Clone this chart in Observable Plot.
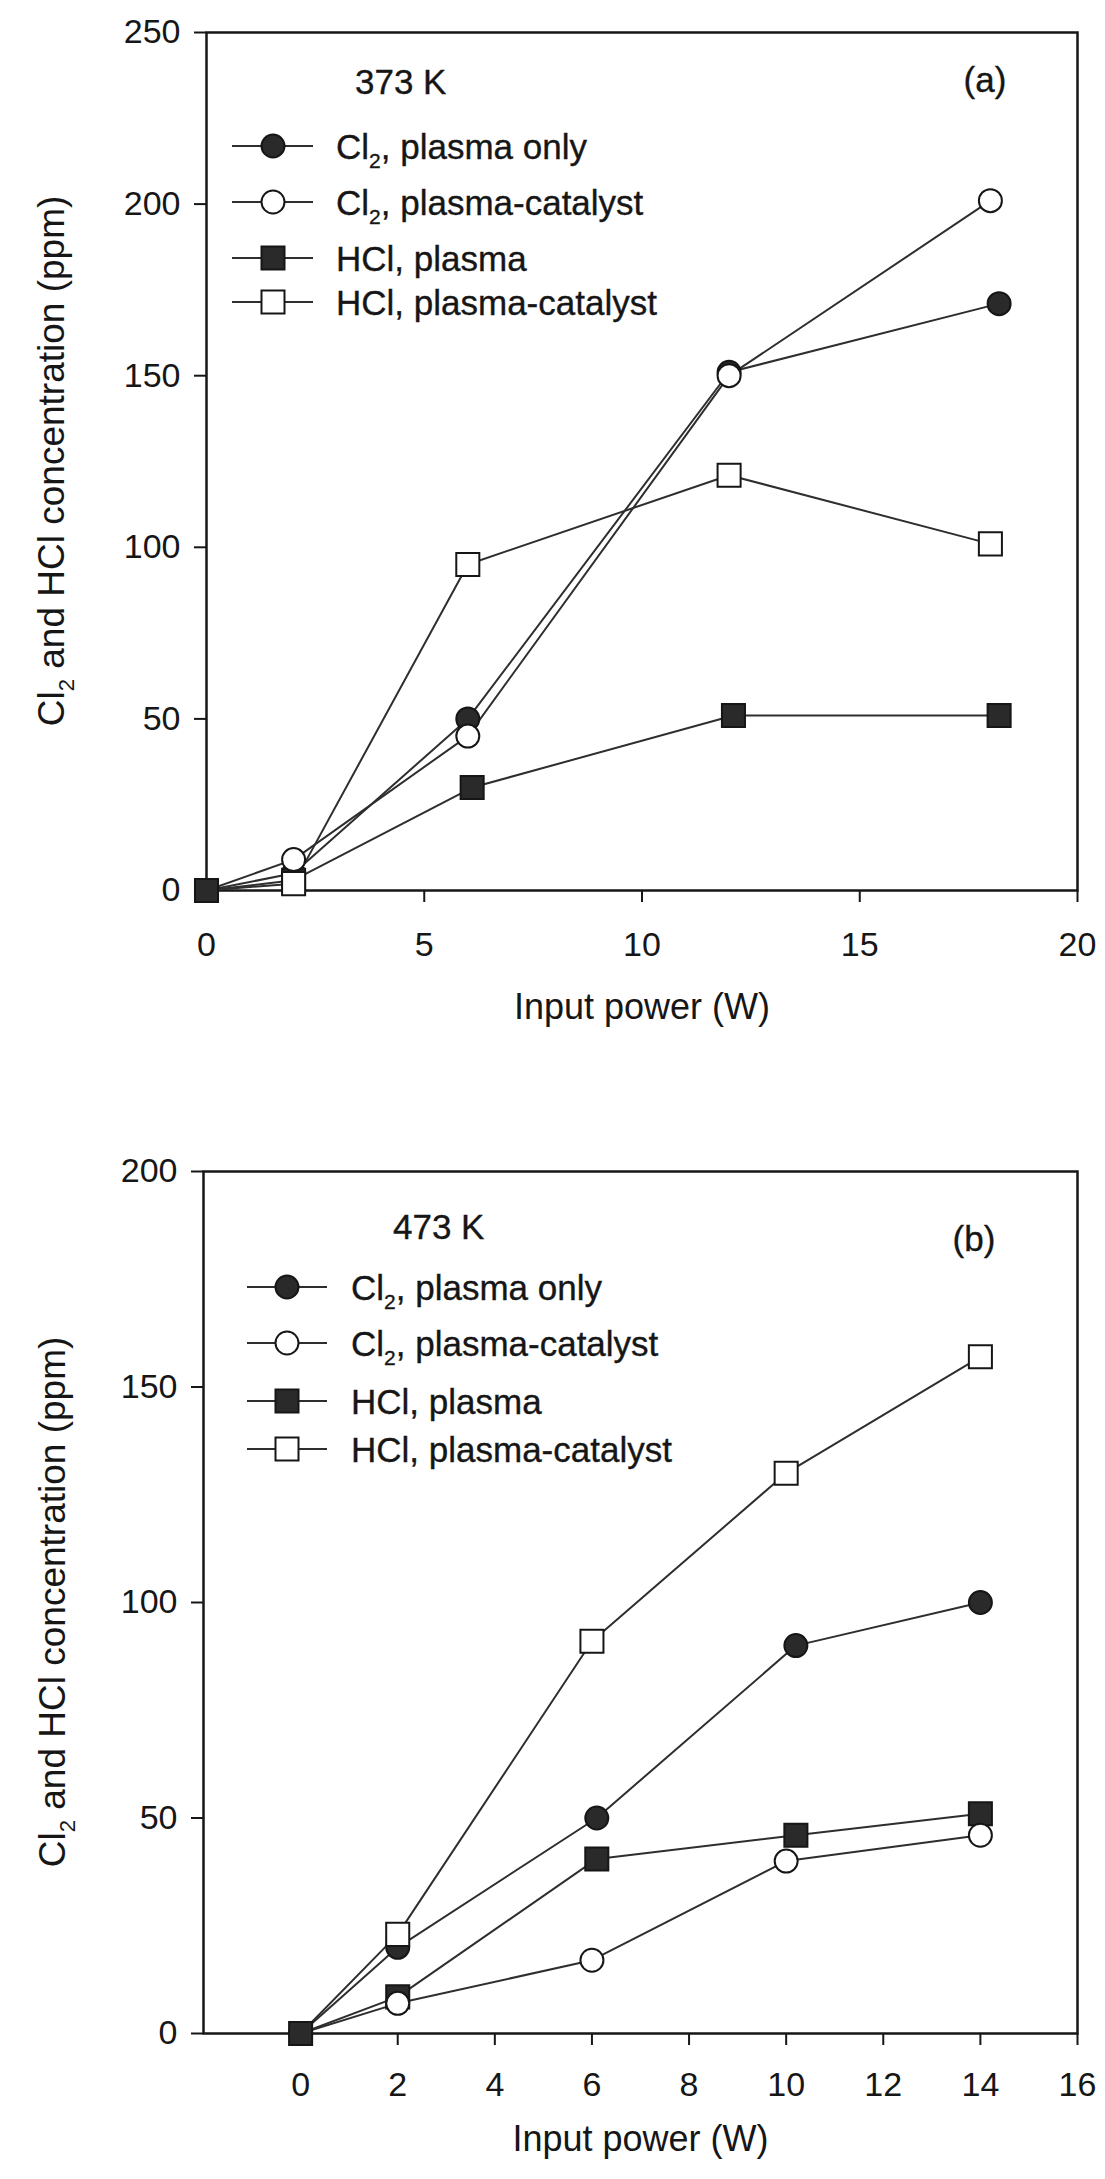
<!DOCTYPE html>
<html><head><meta charset="utf-8">
<script src="https://cdn.jsdelivr.net/npm/d3@7"></script>
<script src="https://cdn.jsdelivr.net/npm/@observablehq/plot@0.6"></script>
<style>
html,body{margin:0;padding:0;background:#fff;}
#chart{width:1105px;}
#chart svg{display:block;}
</style></head>
<body><div id="chart"></div>
<script>
// ---------- Series descriptions (shared by both panels) ----------
const seriesKeys  = ["cl2Plasma", "cl2Catalyst", "hclPlasma", "hclCatalyst"];
const seriesChem  = ["Cl", "Cl", "HCl", "HCl"];
const seriesSub   = ["2", "2", "", ""];
const seriesDesc  = [", plasma only", ", plasma-catalyst", ", plasma", ", plasma-catalyst"];
const seriesShape = ["circle", "circle", "square", "square"];
const seriesFilled = [true, false, true, false];

// ---------- Panel (a): 373 K ----------
const aTemp = "373 K";
const aTag = "(a)";
const aPowerCl2Plasma = [0, 2, 6, 12, 18.2];
const aCl2Plasma      = [0, 5, 50, 151, 171];
const aPowerCl2Cat    = [0, 2, 6, 12, 18];
const aCl2Catalyst    = [0, 9, 45, 150, 201];
const aPowerHclPlasma = [0, 2, 6.1, 12.1, 18.2];
const aHclPlasma      = [0, 3, 30, 51, 51];
const aPowerHclCat    = [0, 2, 6, 12, 18];
const aHclCatalyst    = [0, 2, 95, 121, 101];
const aXTicks = [0, 5, 10, 15, 20];
const aYTicks = [0, 50, 100, 150, 200, 250];

// ---------- Panel (b): 473 K ----------
const bTemp = "473 K";
const bTag = "(b)";
const bPowerCl2Plasma = [0, 2, 6.1, 10.2, 14];
const bCl2Plasma      = [0, 20, 50, 90, 100];
const bPowerCl2Cat    = [0, 2, 6, 10, 14];
const bCl2Catalyst    = [0, 7, 17, 40, 46];
const bPowerHclPlasma = [0, 2, 6.1, 10.2, 14];
const bHclPlasma      = [0, 8.5, 40.5, 46, 51];
const bPowerHclCat    = [0, 2, 6, 10, 14];
const bHclCatalyst    = [0, 23, 91, 130, 157];
const bXTicks = [0, 2, 4, 6, 8, 10, 12, 14, 16];
const bYTicks = [0, 50, 100, 150, 200];

const xLabel = "Input power (W)";
const yLabelParts = ["Cl", "2", " and HCl concentration (ppm)"];

// ---------- Styling ----------
const FONT = "'Liberation Sans', Arial, Helvetica, sans-serif";
const INK = "#161616";
const LINE = "#2e2e2e";
const DARK = "#2a2a2a";

function buildRows(powers, values) {
  return seriesKeys.flatMap((key, i) =>
    powers[i].map((p, j) => ({series: key, idx: i, power: p, conc: values[i][j]})));
}

function addLabel(textSel, chem, sub, rest) {
  textSel.append("tspan").text(chem);
  if (sub) {
    textSel.append("tspan").attr("font-size", "0.6em").attr("dy", "0.45em").text(sub);
    textSel.append("tspan").attr("dy", "-0.27em").text(rest);
  } else {
    textSel.append("tspan").text(rest);
  }
}

function annotations(cfg) {
  return (index, scales, values, dims) => {
    const ml = dims.marginLeft, mt = dims.marginTop, mr = dims.marginRight, mb = dims.marginBottom;
    const W = dims.width, H = dims.height;
    const g = d3.create("svg:g").attr("font-family", FONT).attr("fill", INK)
      .attr("text-anchor", "start");
    const heavy = sel => sel.attr("stroke", INK).attr("stroke-width", 0.35);
    // temperature & tag
    heavy(g.append("text").attr("x", ml + cfg.tempX).attr("y", mt + cfg.tempY)
      .attr("dy", "0.36em").attr("font-size", cfg.fs).text(cfg.temp));
    heavy(g.append("text").attr("x", W - mr - cfg.tagRight).attr("y", mt + cfg.tagY)
      .attr("dy", "0.36em").attr("text-anchor", "middle").attr("font-size", cfg.fs).text(cfg.tag));
    // legend rows
    seriesKeys.forEach((k, i) => {
      const y = mt + cfg.rows[i];
      g.append("line").attr("x1", ml + cfg.lineX[0]).attr("x2", ml + cfg.lineX[1])
        .attr("y1", y).attr("y2", y).attr("stroke", LINE).attr("stroke-width", 2);
      const mx = ml + cfg.markerX;
      const fill = seriesFilled[i] ? DARK : "#fff";
      if (seriesShape[i] === "circle") {
        g.append("circle").attr("cx", mx).attr("cy", y).attr("r", 11.5)
          .attr("fill", fill).attr("stroke", INK).attr("stroke-width", 2);
      } else {
        g.append("rect").attr("x", mx - 11.5).attr("y", y - 11.5).attr("width", 23).attr("height", 23)
          .attr("fill", fill).attr("stroke", INK).attr("stroke-width", 2);
      }
      const t = heavy(g.append("text").attr("x", ml + cfg.textX).attr("y", y).attr("dy", "0.36em")
        .attr("text-anchor", "start").attr("font-size", cfg.fs));
      addLabel(t, seriesChem[i], seriesSub[i], seriesDesc[i]);
    });
    // y-axis label (rotated, with subscript)
    const cy = (mt + (H - mb)) / 2;
    const yl = g.append("text").attr("transform", `translate(${cfg.yLabelX},${cy}) rotate(-90)`)
      .attr("text-anchor", "middle").attr("dy", "0.36em").attr("font-size", cfg.axisFs);
    addLabel(yl, yLabelParts[0], yLabelParts[1], yLabelParts[2]);
    return g.node();
  };
}

function panel(opt) {
  const rows = buildRows(opt.powers, opt.values);
  const pick = (i, dropZero) => rows.filter(d => d.idx === i && !(dropZero && d.power === 0));
  const dotMarks = [0, 2, 1, 3].map(i => Plot.dot(pick(i, !seriesFilled[i]), {
    x: "power", y: "conc",
    symbol: seriesShape[i],
    r: seriesShape[i] === "circle" ? 11.5 : 13,
    fill: seriesFilled[i] ? DARK : "#fff",
    stroke: INK, strokeWidth: 2
  }));
  return Plot.plot({
    width: 1105, height: opt.height,
    marginLeft: opt.ml, marginRight: opt.mr, marginTop: opt.mt, marginBottom: opt.mb,
    style: {fontFamily: FONT, background: "#fff", color: INK},
    x: {domain: opt.xDomain, label: null},
    y: {domain: opt.yDomain, label: null},
    marks: [
      Plot.axisX({ticks: opt.xTicks, tickSize: 12, tickPadding: opt.xPad, fontSize: 34,
                  label: null, strokeWidth: 2, stroke: INK, fill: INK}),
      Plot.axisY({ticks: opt.yTicks, tickSize: 12, tickPadding: 14, fontSize: 34,
                  label: null, strokeWidth: 2, stroke: INK, fill: INK}),
      Plot.frame({stroke: INK, strokeWidth: 2.5}),
      Plot.line(rows, {x: "power", y: "conc", z: "series", stroke: LINE, strokeWidth: 2}),
      ...dotMarks,
      Plot.text([xLabel], {frameAnchor: "bottom", dy: opt.xLabelDy, text: d => d,
                           fontSize: 36, fill: INK}),
      annotations(opt.ann)
    ]
  });
}

const chart = document.getElementById("chart");
chart.appendChild(panel({
  height: 1080, ml: 206, mr: 28, mt: 32, mb: 190,
  xDomain: [0, 20], yDomain: [0, 250], xTicks: aXTicks, yTicks: aYTicks, xPad: 29, xLabelDy: 128,
  powers: [aPowerCl2Plasma, aPowerCl2Cat, aPowerHclPlasma, aPowerHclCat],
  values: [aCl2Plasma, aCl2Catalyst, aHclPlasma, aHclCatalyst],
  ann: {temp: aTemp, tag: aTag, fs: 35, axisFs: 37, tempX: 149, tempY: 49, tagRight: 92, tagY: 47,
        rows: [114, 170, 226, 270], lineX: [26, 107], markerX: 67, textX: 130, yLabelX: 51}
}));
chart.appendChild(panel({
  height: 1099, ml: 203, mr: 28, mt: 91, mb: 146,
  xDomain: [-2, 16], yDomain: [0, 200], xTicks: bXTicks, yTicks: bYTicks, xPad: 26, xLabelDy: 117,
  powers: [bPowerCl2Plasma, bPowerCl2Cat, bPowerHclPlasma, bPowerHclCat],
  values: [bCl2Plasma, bCl2Catalyst, bHclPlasma, bHclCatalyst],
  ann: {temp: bTemp, tag: bTag, fs: 35, axisFs: 37, tempX: 190, tempY: 55, tagRight: 103, tagY: 67,
        rows: [116, 172, 230, 278], lineX: [44, 124], markerX: 84, textX: 148, yLabelX: 52}
}));
</script>
</body></html>
